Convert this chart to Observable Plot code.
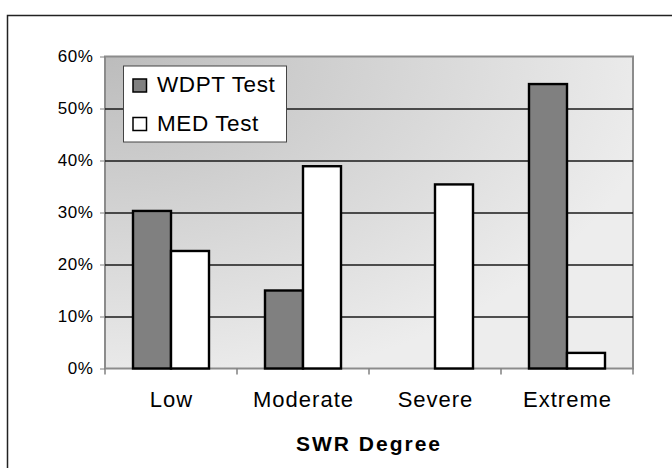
<!DOCTYPE html>
<html>
<head>
<meta charset="utf-8">
<script src="https://cdn.jsdelivr.net/npm/d3@7"></script>
<script src="https://cdn.jsdelivr.net/npm/@observablehq/plot@0.6"></script>
<style>
  html, body { margin: 0; padding: 0; background: white; }
</style>
</head>
<body>
<div id="chart"></div>
<script>
const categories = ["Low", "Moderate", "Severe", "Extreme"];
const series = ["WDPT Test", "MED Test"];
const wdpt = [0.303, 0.150, 0, 0.547];
const med = [0.226, 0.389, 0.354, 0.030];
const yTicks = [0, 0.1, 0.2, 0.3, 0.4, 0.5, 0.6];
const gridTicks = [0.1, 0.2, 0.3, 0.4, 0.5];
const xTitle = "SWR Degree";
const seriesColors = ["#808080", "#ffffff"];

(function () {
const data = categories.flatMap((c, i) => [
  {cat: c, s: series[0], v: wdpt[i]},
  {cat: c, s: series[1], v: med[i]}
]).filter(d => d.v > 0);

const fmt = d3.format(".0%");

const plot = Plot.plot({
  width: 672,
  height: 468,
  marginLeft: 103,
  marginRight: 38,
  marginTop: 56.5,
  marginBottom: 99.5,
  style: {fontFamily: "'Liberation Sans', Arial, sans-serif", background: "white", color: "black"},
  fx: {domain: categories, padding: 0, label: null},
  x: {domain: series, paddingInner: 0, paddingOuter: 0.72, axis: null},
  y: {domain: [0, 0.6], axis: null},
  color: {domain: series, range: seriesColors},
  marks: [
    Plot.gridY(gridTicks, {stroke: "#1a1a1a", strokeOpacity: 1, strokeWidth: 1.3}),
    Plot.barY(data, {fx: "cat", x: "s", y: "v", fill: "s", stroke: "black", strokeWidth: 2.4}),
    Plot.axisY(yTicks, {tickSize: 5, tickPadding: 7, stroke: "#808080", fill: "black", fontSize: 17, tickFormat: fmt, label: null}),
    Plot.axisFx({anchor: "bottom", tickSize: 0, tickPadding: 22.6, fontSize: 22, label: null, fill: "black"})
  ]
});

document.getElementById("chart").appendChild(plot);

const svg = d3.select(plot);
const fxS = plot.scale("fx");
const yS = plot.scale("y");
const pLeft = fxS.apply(categories[0]);
const pRight = fxS.apply(categories[categories.length - 1]) + fxS.bandwidth;
const pTop = yS.apply(0.6);
const pBottom = yS.apply(0);

// background gradient + frame (behind marks)
const back = svg.insert("g", ":first-child");
const defs = back.append("defs");
const grad = defs.append("radialGradient")
  .attr("id", "bgGrad")
  .attr("gradientUnits", "userSpaceOnUse")
  .attr("cx", 0).attr("cy", 0).attr("r", 1)
  .attr("gradientTransform", `translate(${pLeft},${pTop}) scale(560,340)`);
grad.append("stop").attr("offset", 0).attr("stop-color", "#bcbcbc");
grad.append("stop").attr("offset", 1).attr("stop-color", "#ededed");
back.append("rect")
  .attr("x", pLeft).attr("y", pTop)
  .attr("width", pRight - pLeft).attr("height", pBottom - pTop)
  .attr("fill", "url(#bgGrad)")
  .attr("stroke", "#8c8c8c").attr("stroke-width", 2);

// category boundary ticks on the bottom axis
const tickG = svg.append("g").attr("stroke", "#808080").attr("stroke-width", 1.5);
const bounds = categories.map(c => fxS.apply(c)).concat([pRight]);
bounds.forEach(b => {
  tickG.append("line").attr("x1", b).attr("x2", b).attr("y1", pBottom).attr("y2", pBottom + 6);
});

// font size / letter spacing for axis labels
const yLabels = new Set(yTicks.map(fmt));
svg.selectAll("text")
  .filter(function () { return yLabels.has(this.textContent); })
  .style("font-size", "17px")
  .attr("letter-spacing", 0.6);
const catSet = new Set(categories);
svg.selectAll("text")
  .filter(function () { return catSet.has(this.textContent); })
  .attr("letter-spacing", 1);

// x-axis title
svg.append("text")
  .attr("x", (pLeft + pRight) / 2)
  .attr("y", 451)
  .attr("text-anchor", "middle")
  .attr("font-size", 21)
  .attr("font-weight", "bold")
  .attr("letter-spacing", 2)
  .attr("fill", "black")
  .text(xTitle);

// legend
const lg = svg.append("g").attr("text-anchor", "start");
lg.append("rect")
  .attr("x", 123.5).attr("y", 66).attr("width", 163).attr("height", 76)
  .attr("fill", "white").attr("stroke", "#444").attr("stroke-width", 1);
series.forEach((s, i) => {
  const yy = 79 + i * 38.5;
  lg.append("rect")
    .attr("x", 133).attr("y", yy).attr("width", 13.5).attr("height", 13)
    .attr("fill", seriesColors[i]).attr("stroke", "black").attr("stroke-width", 1.5);
  lg.append("text")
    .attr("x", 157).attr("y", yy + 13)
    .attr("text-anchor", "start")
    .attr("font-size", 22.5).attr("letter-spacing", 0.6)
    .attr("fill", "black")
    .text(s);
});

// outer chart border (only top/left visible)
svg.append("path")
  .attr("d", "M7.5,468 V15.5 H672")
  .attr("fill", "none").attr("stroke", "#222").attr("stroke-width", 1.5);
})();
</script>
</body>
</html>
